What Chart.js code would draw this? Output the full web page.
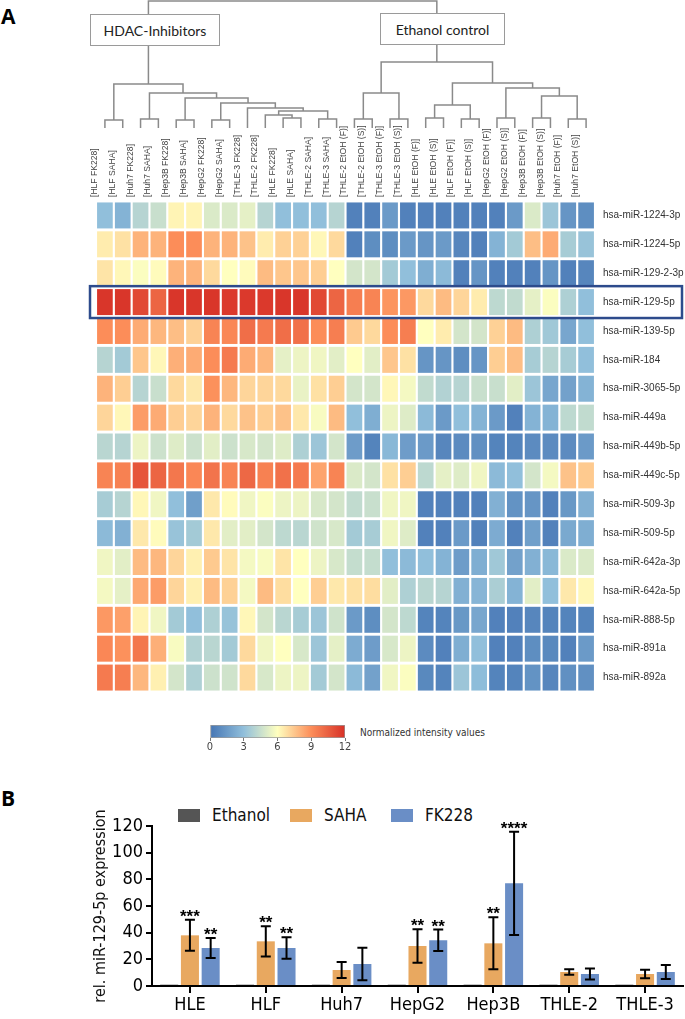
<!DOCTYPE html>
<html>
<head>
<meta charset="utf-8">
<script src="https://cdn.jsdelivr.net/npm/chart.js@4.4.1/dist/chart.umd.min.js"></script>
<style>
  body { margin: 0; background: #fff; width: 685px; height: 1019px; position: relative; overflow: hidden; }
  .box { position: absolute; }
  .panel { position: absolute; font-family: 'Open Sans', 'Liberation Sans', sans-serif; font-weight: bold; font-size: 21px; color: #000; }
  .group { position: absolute; background: #fff; border: 1.5px solid #9a9a9a; font-family: Lato, 'Liberation Sans', sans-serif; font-size: 14px; color: #222; display: flex; align-items: center; justify-content: center; box-sizing: border-box; }
  .cbtitle { position: absolute; font-family: 'Liberation Sans Narrow', 'DejaVu Sans Condensed', sans-serif; font-size: 10px; color: #333; }
  .legend { position: absolute; top: 805px; font-family: 'Liberation Sans Narrow', 'DejaVu Sans Condensed', sans-serif; font-size: 17px; color: #111; display: flex; align-items: center; }
  .legend span.sw { display: inline-block; width: 22px; height: 13px; margin-right: 12px; }
</style>
</head>
<body>
<div class="panel" style="left:1px; top:2px;">A</div>
<div class="panel" style="left:1px; top:784px;">B</div>

<div class="box" style="left:96px; top:0px; width:499px; height:128px;"><canvas id="dendro"></canvas></div>
<div class="group" style="left:90px; top:14px; width:130px; height:32px;">HDAC-Inhibitors</div>
<div class="group" style="left:380px; top:13px; width:125px; height:32px;">Ethanol control</div>

<div class="box" style="left:86px; top:100px; width:599px; height:606px;"><canvas id="heat"></canvas></div>

<div class="box" style="left:200px; top:720px; width:155px; height:38px;"><canvas id="cbar"></canvas></div>
<div class="cbtitle" style="left:360px; top:727px;">Normalized intensity values</div>

<div class="legend" style="left:178px;"><span class="sw" style="background:#555555"></span>Ethanol</div>
<div class="legend" style="left:290px;"><span class="sw" style="background:#e8a860"></span>SAHA</div>
<div class="legend" style="left:391px;"><span class="sw" style="background:#6a8ec6"></span>FK228</div>

<div class="box" style="left:0px; top:800px; width:685px; height:219px;"><canvas id="bars"></canvas></div>

<script>
// ---------- data: heatmap ----------
const colNames = [
  '[HLF FK228]', '[HLF SAHA]', '[Huh7 FK228]', '[Huh7 SAHA]', '[Hep3B FK228]', '[Hep3B SAHA]',
  '[HepG2 FK228]', '[HepG2 SAHA]', '[THLE-3 FK228]', '[THLE-2 FK228]', '[HLE FK228]', '[HLE SAHA]',
  '[THLE-2 SAHA]', '[THLE-3 SAHA]',
  '[THLE-2 EtOH (F)]', '[THLE-2 EtOH (S)]', '[THLE-3 EtOH (F)]', '[THLE-3 EtOH (S)]',
  '[HLE EtOH (F)]', '[HLE EtOH (S)]', '[HLF EtOH (F)]', '[HLF EtOH (S)]',
  '[HepG2 EtOH (F)]', '[HepG2 EtOH (S)]', '[Hep3B EtOH (F)]', '[Hep3B EtOH (S)]',
  '[Huh7 EtOH (F)]', '[Huh7 EtOH (S)]'
];
const rowNames = [
  'hsa-miR-1224-3p', 'hsa-miR-1224-5p', 'hsa-miR-129-2-3p', 'hsa-miR-129-5p', 'hsa-miR-139-5p',
  'hsa-miR-184', 'hsa-miR-3065-5p', 'hsa-miR-449a', 'hsa-miR-449b-5p', 'hsa-miR-449c-5p',
  'hsa-miR-509-3p', 'hsa-miR-509-5p', 'hsa-miR-642a-3p', 'hsa-miR-642a-5p', 'hsa-miR-888-5p',
  'hsa-miR-891a', 'hsa-miR-892a'
];
const highlightRow = 3; // hsa-miR-129-5p

// normalized intensity, one list per miRNA (same order as rowNames / colNames)
const intensity = [
  [3, 2.5, 4, 4.5, 6.3, 6.3, 5, 5, 5.3, 4, 3, 3, 3, 4, 0.5, 0.5, 1.5, 0.5, 0.5, 0.5, 0.5, 0.5, 0.5, 1.5, 5, 3.3, 1.3, 1],
  [6.5, 6.8, 8, 8, 9, 9, 8, 8, 7.6, 6.5, 7.2, 7.2, 6.2, 7, 0.5, 1, 1, 1.5, 1.3, 1.5, 0.7, 0.5, 2.5, 3.5, 7.7, 8.2, 3.6, 3.2],
  [6.7, 6.2, 5.9, 6.1, 8, 8, 7, 6, 6.1, 7.8, 7.5, 7.5, 7.3, 6, 4.8, 4.8, 3.5, 3, 2.3, 2.8, 0.5, 1.3, 0.5, 0.5, 0.5, 1.3, 0.5, 0.7],
  [11.8, 11.8, 11.2, 10.3, 11.8, 11.8, 11.8, 11.7, 11.7, 11.7, 11.8, 11.8, 11.2, 10.3, 9.5, 9.3, 8.8, 8.7, 7, 7.8, 7.1, 6.5, 4.2, 4.3, 5.3, 5.9, 3.8, 3],
  [9, 9, 8.2, 7.9, 7.7, 7.2, 9.3, 9.2, 10, 9.6, 10, 9.9, 9, 9.5, 7.4, 7, 9, 9.5, 6, 6.5, 4.8, 4.8, 7.2, 7.8, 3.8, 3.4, 2, 3],
  [4, 3.5, 7.5, 6.2, 8.1, 8.2, 9, 9.6, 8.2, 7.9, 5.3, 5.5, 5.6, 5.2, 6, 5.2, 7.5, 6.8, 1.3, 1.3, 1, 1.3, 7.3, 7.7, 3.6, 4, 3.6, 3],
  [8, 7.3, 4, 4.5, 7, 6.6, 8.9, 7.9, 7.1, 7.1, 7, 5.4, 6.8, 7.3, 4.8, 4.8, 6.2, 5.7, 4.3, 3.9, 4, 4.5, 4.5, 5.2, 3.3, 2, 1.8, 2.5],
  [7.1, 6.2, 8.6, 8.2, 7.3, 7.1, 8, 7, 7.6, 7.3, 7.6, 6.6, 5.8, 7.8, 3, 2.3, 5.5, 5.1, 2.8, 1.5, 3, 2.5, 1.5, 0.5, 2.5, 2.5, 4.2, 4.3],
  [4.1, 4, 5.5, 4.6, 5.1, 4.6, 5.2, 4.6, 4.9, 4.8, 5.1, 3.8, 3.3, 4.8, 1.6, 0.6, 2.7, 1.6, 1.5, 0.7, 0.9, 1.1, 0.6, 0.6, 0.9, 0.9, 0.9, 1.5],
  [9.3, 9.4, 10.8, 10.3, 9.7, 9.2, 9.8, 9.3, 10.2, 9.4, 9.9, 9.6, 8.4, 9.3, 5, 4.8, 6.8, 7.3, 4.2, 5.3, 5.1, 5.6, 2.8, 3, 4.8, 5.7, 7.6, 7.4],
  [3.6, 4, 6.2, 5.6, 3, 1.7, 6.6, 6.1, 5.6, 5.9, 5.5, 5.5, 4.9, 4.8, 4.3, 4.5, 5.6, 5.6, 0.5, 0.5, 0.5, 0.5, 2.4, 1.2, 1.3, 0.5, 1.4, 2.4],
  [2.8, 2.4, 6.6, 6.1, 3.2, 3.5, 6.6, 5.2, 5.2, 4.8, 4.2, 4.1, 4.7, 4.9, 3.5, 3.6, 5.6, 5.1, 0.5, 0.5, 1.5, 0.5, 2.2, 0.5, 1.7, 0.5, 2.1, 2.3],
  [5.6, 5.2, 7.8, 7.9, 7.1, 6.4, 7.4, 6.7, 5.7, 5.8, 6.7, 6, 5.5, 4.9, 4.4, 4.4, 3, 2.8, 3, 2.5, 1.6, 2.3, 3.4, 1.8, 2.4, 2.7, 5, 5],
  [5.7, 5.3, 8.3, 8.6, 7.1, 6.4, 7.8, 7.2, 5.7, 7.8, 6.9, 6, 7.3, 6.6, 6.8, 6.9, 5.2, 3.8, 4.1, 4, 2.4, 2.6, 3.7, 2.5, 5.2, 3, 6.6, 6.2],
  [8.7, 8.5, 6.3, 5.6, 3.5, 3, 3.8, 3.2, 6.2, 4.8, 4.1, 3.6, 3.3, 4.7, 1.5, 1, 4.8, 4.2, 0.6, 0.6, 1.4, 2, 0.5, 0.5, 0.7, 0.6, 0.6, 0.6],
  [9.2, 8.9, 9.7, 8.1, 5.8, 3.9, 4.1, 3.5, 7, 5.6, 6, 4.9, 3.3, 5.3, 2.2, 1.6, 4.9, 5.5, 0.9, 0.5, 2.3, 3, 0.5, 0.5, 1, 0.8, 0.5, 1.5],
  [9.6, 9.5, 7.9, 6.4, 4.8, 3.8, 4.6, 4.7, 7, 4.9, 5.5, 5.5, 3.5, 4.8, 2.8, 1.8, 5.6, 5.9, 0.8, 0.6, 3.3, 2.9, 0.6, 0.6, 1.2, 0.7, 1.1, 1.1]
];

// colour scale (value -> colour stops) and its tick labels
const scaleStops = [0, 3, 6, 9, 12];
const scaleColors = ['#4575b4', '#91bfdb', '#ffffbf', '#fc8d59', '#d73027'];

// dendrogram linkage: [childA, childB, height]; leaves are 0..27, merge k gets id 28+k
const dendroMerges = [
  [0, 1, 8], [2, 3, 9], [4, 5, 8], [6, 7, 8],          // 28..31
  [10, 11, 10], [9, 32, 13], [12, 13, 9], [33, 34, 17], // 32..35
  [8, 35, 20], [31, 36, 25], [30, 37, 30], [29, 38, 35], // 36..39
  [28, 39, 44],                                         // 40  HDAC-Inhibitors
  [14, 15, 9], [16, 17, 9], [41, 42, 35],               // 41..43
  [18, 19, 10], [20, 21, 9], [44, 45, 23],              // 44..46
  [22, 23, 10], [24, 25, 10], [26, 27, 9],              // 47..49
  [48, 49, 32], [47, 50, 40], [46, 51, 45], [43, 52, 66], // 50..53  Ethanol control
  [40, 53, 127]                                         // 54 root
];

// ---------- data: bar chart ----------
const cellLines = ['HLE', 'HLF', 'Huh7', 'HepG2', 'Hep3B', 'THLE-2', 'THLE-3'];
const ethanolVals = [1, 1, 1, 1, 1, 1, 1];
const sahaVals = [38, 33.5, 12, 30, 32, 10.5, 9];
const sahaErr = [11.6, 11.3, 6, 12.6, 19.5, 2, 3.1];
const fk228Vals = [28.5, 28.5, 16.5, 34.3, 77, 9, 10.5];
const fk228Err = [7.5, 8, 12.2, 8, 38.7, 4.2, 5.3];
const sahaStars = ['***', '**', '', '**', '**', '', ''];
const fk228Stars = ['**', '**', '', '**', '****', '', ''];
const yTicks = [0, 20, 40, 60, 80, 100, 120];

// ---------- helpers ----------
const NARROW = "'Liberation Sans Narrow', 'DejaVu Sans Condensed', sans-serif";
const ARIAL = "'Liberation Sans', Arial, sans-serif";

function hexToRgb(h) {
  return [parseInt(h.slice(1, 3), 16), parseInt(h.slice(3, 5), 16), parseInt(h.slice(5, 7), 16)];
}
function intensityColor(v) {
  let i = 0;
  while (i < scaleStops.length - 2 && v > scaleStops[i + 1]) i++;
  const t = Math.max(0, Math.min(1, (v - scaleStops[i]) / (scaleStops[i + 1] - scaleStops[i])));
  const a = hexToRgb(scaleColors[i]), b = hexToRgb(scaleColors[i + 1]);
  const c = a.map((x, k) => Math.round(x + (b[k] - x) * t));
  return `rgb(${c[0]},${c[1]},${c[2]})`;
}

// ==========================================
// 1. Dendrogram
// ==========================================
const nodeX = [], nodeH = [];
colNames.forEach((_, i) => { nodeX[i] = i; nodeH[i] = 0; });
const dendroPts = [];
dendroMerges.forEach(([a, b, h], k) => {
  const id = colNames.length + k;
  dendroPts.push(
    { x: nodeX[a], y: nodeH[a] }, { x: nodeX[a], y: h },
    { x: nodeX[b], y: h }, { x: nodeX[b], y: nodeH[b] },
    { x: nodeX[b], y: null }
  );
  nodeX[id] = (nodeX[a] + nodeX[b]) / 2;
  nodeH[id] = h;
});

new Chart(document.getElementById('dendro'), {
  type: 'scatter',
  data: { datasets: [{ data: dendroPts, showLine: true, spanGaps: false, borderColor: '#8a8a8a', borderWidth: 1.5, pointRadius: 0, clip: false }] },
  options: {
    animation: false, responsive: true, maintainAspectRatio: false,
    layout: { padding: 0 },
    plugins: { legend: { display: false }, tooltip: { enabled: false } },
    scales: {
      x: { type: 'linear', min: -0.5, max: colNames.length - 0.5, display: false },
      y: { type: 'linear', min: 0, max: 128, display: false }
    }
  }
});

// ==========================================
// 2. Heatmap
// ==========================================
const highlightBox = {
  id: 'highlightBox',
  afterDatasetsDraw(chart) {
    const { ctx, chartArea, scales } = chart;
    const y1 = scales.y.getPixelForValue(highlightRow - 0.5) - 1.5;
    const y2 = scales.y.getPixelForValue(highlightRow + 0.5) + 1.5;
    ctx.save();
    ctx.strokeStyle = '#2d4b8c';
    ctx.lineWidth = 2.5;
    ctx.strokeRect(chartArea.left - 6, Math.min(y1, y2), chart.width - 3 - (chartArea.left - 6), Math.abs(y2 - y1));
    ctx.restore();
  }
};

new Chart(document.getElementById('heat'), {
  type: 'bar',
  data: {
    labels: colNames,
    datasets: rowNames.map((name, r) => ({
      label: name,
      data: colNames.map(() => [r - 0.45, r + 0.45]),
      backgroundColor: intensity[r].map(intensityColor),
      grouped: false,
      categoryPercentage: 1,
      barPercentage: 0.88,
      borderWidth: 0
    }))
  },
  options: {
    animation: false, responsive: true, maintainAspectRatio: false,
    layout: { padding: { left: 10, right: 0, top: 0, bottom: 0 } },
    plugins: { legend: { display: false }, tooltip: { enabled: false } },
    scales: {
      x: {
        position: 'top',
        grid: { display: false, drawTicks: false },
        border: { display: false },
        ticks: { minRotation: 90, maxRotation: 90, autoSkip: false, padding: 4, color: '#444', font: { family: ARIAL, size: 8.6 } },
        afterFit: s => { s.height = 101; }
      },
      y: {
        position: 'right',
        min: -0.5, max: rowNames.length - 0.5, reverse: true,
        grid: { display: false, drawTicks: false },
        border: { display: false },
        afterBuildTicks: s => { s.ticks = rowNames.map((_, i) => ({ value: i })); },
        ticks: { callback: v => rowNames[v], padding: 8, color: '#333', font: { family: ARIAL, size: 10 } },
        afterFit: s => { s.width = 90; }
      }
    }
  },
  plugins: [highlightBox]
});

// ==========================================
// 3. Colour bar
// ==========================================
new Chart(document.getElementById('cbar'), {
  type: 'bar',
  data: {
    labels: ['scale'],
    datasets: [{
      data: [[scaleStops[0], scaleStops[scaleStops.length - 1]]],
      backgroundColor: (c) => {
        const area = c.chart.chartArea;
        if (!area) return scaleColors[0];
        const g = c.chart.ctx.createLinearGradient(area.left, 0, area.right, 0);
        const maxV = scaleStops[scaleStops.length - 1];
        scaleStops.forEach((v, i) => g.addColorStop(v / maxV, scaleColors[i]));
        return g;
      },
      borderColor: '#9a9a9a', borderWidth: 1, borderSkipped: false,
      categoryPercentage: 1, barPercentage: 1
    }]
  },
  options: {
    indexAxis: 'y',
    animation: false, responsive: true, maintainAspectRatio: false,
    layout: { padding: { left: 10, right: 10, top: 5, bottom: 0 } },
    plugins: { legend: { display: false }, tooltip: { enabled: false } },
    scales: {
      x: {
        type: 'linear', min: scaleStops[0], max: scaleStops[scaleStops.length - 1],
        afterBuildTicks: s => { s.ticks = scaleStops.map(v => ({ value: v })); },
        grid: { drawOnChartArea: false, tickLength: 3, color: '#777' },
        border: { display: false },
        ticks: { padding: 0, color: '#444', font: { family: NARROW, size: 11 } },
        afterFit: s => { s.height = 20; }
      },
      y: { display: false }
    }
  }
});

// ==========================================
// 4. Bar chart (qPCR)
// ==========================================
const errorBars = {
  id: 'errorBars',
  afterDatasetsDraw(chart) {
    const { ctx, scales } = chart;
    const sets = [[1, sahaVals, sahaErr, sahaStars], [2, fk228Vals, fk228Err, fk228Stars]];
    ctx.save();
    ctx.strokeStyle = '#000';
    ctx.fillStyle = '#000';
    ctx.lineWidth = 2;
    sets.forEach(([d, vals, errs, stars]) => {
      chart.getDatasetMeta(d).data.forEach((bar, i) => {
        const x = bar.x;
        const top = scales.y.getPixelForValue(vals[i] + errs[i]);
        const bot = scales.y.getPixelForValue(vals[i] - errs[i]);
        ctx.beginPath();
        ctx.moveTo(x, top); ctx.lineTo(x, bot);
        ctx.moveTo(x - 5, top); ctx.lineTo(x + 5, top);
        ctx.moveTo(x - 5, bot); ctx.lineTo(x + 5, bot);
        ctx.stroke();
        if (stars[i]) {
          ctx.font = 'bold 17px ' + ARIAL;
          ctx.textAlign = 'center';
          ctx.textBaseline = 'alphabetic';
          ctx.fillText(stars[i], x, top + 2);
        }
      });
    });
    ctx.restore();
  }
};

new Chart(document.getElementById('bars'), {
  type: 'bar',
  data: {
    labels: cellLines,
    datasets: [
      { label: 'Ethanol', data: ethanolVals, backgroundColor: '#555555' },
      { label: 'SAHA', data: sahaVals, backgroundColor: '#e8a860' },
      { label: 'FK228', data: fk228Vals, backgroundColor: '#6a8ec6' }
    ].map(ds => Object.assign(ds, { categoryPercentage: 0.82, barPercentage: 0.87, borderWidth: 0 }))
  },
  options: {
    animation: false, responsive: true, maintainAspectRatio: false,
    layout: { padding: { left: 91, right: 2, top: 26, bottom: 0 } },
    plugins: { legend: { display: false }, tooltip: { enabled: false } },
    scales: {
      x: {
        grid: { offset: false, drawOnChartArea: false, tickLength: 7, color: '#000', lineWidth: 2 },
        border: { color: '#000', width: 2 },
        ticks: { padding: 2, color: '#000', font: { family: NARROW, size: 18 } },
        afterFit: s => { s.height = 33; }
      },
      y: {
        min: yTicks[0], max: yTicks[yTicks.length - 1],
        afterBuildTicks: s => { s.ticks = yTicks.map(v => ({ value: v })); },
        grid: { drawOnChartArea: false, tickLength: 6, color: '#000', lineWidth: 2 },
        border: { color: '#000', width: 2 },
        ticks: { padding: 3, color: '#000', font: { family: NARROW, size: 18 } },
        title: { display: true, text: 'rel. miR-129-5p expression', color: '#111', padding: { top: 0, bottom: 0 }, font: { family: NARROW, size: 16 } },
        afterFit: s => { s.width = 61; }
      }
    }
  },
  plugins: [errorBars]
});
</script>
</body>
</html>
